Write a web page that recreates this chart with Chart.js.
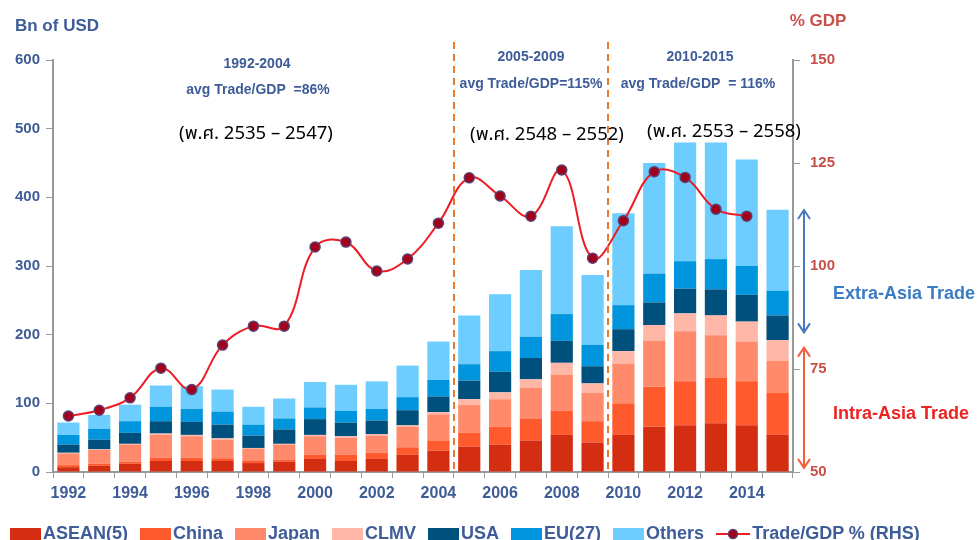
<!DOCTYPE html>
<html>
<head>
<meta charset="utf-8">
<script src="https://cdn.jsdelivr.net/npm/chart.js@4"></script>
<style>
  body { margin: 0; background: #fff; }
  #wrap { position: relative; width: 979px; height: 540px; overflow: hidden; font-family: "Liberation Sans", Arial, sans-serif; }
  canvas { position: absolute; left: 0; top: 0; }
  .note { position: absolute; font-weight: bold; white-space: nowrap; transform: translate(-50%, -50%); }
  .blue { color: #3d5c98; }
  .thai { position: absolute; font-family: "Noto Sans Thai", "Noto Sans", "DejaVu Sans", sans-serif; font-size: 18.5px; color: #000; white-space: nowrap; transform: translate(-50%, -50%); }
  #legend { position: absolute; left: 10px; top: 523px; display: flex; align-items: center; font-weight: bold; font-size: 18px; color: #3d5c98; }
  #legend .item { display: flex; align-items: center; margin-right: 12px; }
  #legend .box { width: 31px; height: 12px; margin-right: 2px; }
</style>
</head>
<body>
<div id="wrap">
  <canvas id="grafico" width="979" height="540"></canvas>

  <div class="note blue" style="left:57px; top:26px; font-size:17px;">Bn of USD</div>
  <div class="note" style="left:818px; top:21px; font-size:17px; color:#c8504a;">% GDP</div>

  <div class="note blue" style="left:257px; top:63px; font-size:14px;">1992-2004</div>
  <div class="note blue" style="left:258px; top:89px; font-size:14px;">avg Trade/GDP&nbsp;&nbsp;=86%</div>
  <div class="note blue" style="left:531px; top:56px; font-size:14px;">2005-2009</div>
  <div class="note blue" style="left:531px; top:83px; font-size:14px;">avg Trade/GDP=115%</div>
  <div class="note blue" style="left:700px; top:56px; font-size:14px;">2010-2015</div>
  <div class="note blue" style="left:698px; top:83px; font-size:14px;">avg Trade/GDP&nbsp;&nbsp;= 116%</div>

  <div class="thai" style="left:256px; top:133px;">(พ.ศ. 2535 – 2547)</div>
  <div class="thai" style="left:547px; top:134px;">(พ.ศ. 2548 – 2552)</div>
  <div class="thai" style="left:724px; top:131px;">(พ.ศ. 2553 – 2558)</div>

  <div class="note" style="left:904px; top:293px; font-size:18px; color:#3a7cc4;">Extra-Asia Trade</div>
  <div class="note" style="left:901px; top:413px; font-size:18px; color:#ee2222;">Intra-Asia Trade</div>

  <div id="legend"></div>
</div>

<script>
// Dados (bilhões de USD)
const anos = ['1992','1993','1994','1995','1996','1997','1998','1999','2000','2001','2002','2003',
              '2004','2005','2006','2007','2008','2009','2010','2011','2012','2013','2014','2015'];
const asean  = [7, 9, 12, 16, 16, 16, 13, 15, 19, 16, 19, 25, 31, 37, 40, 46, 54, 43, 54, 66, 68, 71, 68, 54];
const china  = [3, 3, 3, 5, 5, 4, 3, 3, 6, 9, 9, 11, 15, 20, 26, 32, 35, 31, 46, 58, 64, 66, 64, 61];
const japan  = [17, 20, 25, 33, 31, 27, 18, 22, 27, 25, 25, 30, 38, 41, 40, 45, 53, 41, 58, 67, 73, 62, 58, 47];
const clmv   = [1, 1, 1, 2, 2, 2, 1, 1, 2, 2, 2, 2, 3, 8, 10, 12, 17, 14, 18, 23, 26, 29, 29, 30];
const usa    = [12, 14, 16, 18, 19, 20, 18, 21, 23, 20, 20, 22, 23, 27, 30, 31, 32, 25, 32, 33, 36, 38, 39, 36];
const eu     = [14, 16, 17, 21, 19, 19, 16, 16, 17, 17, 17, 19, 24, 24, 30, 31, 39, 31, 35, 42, 40, 44, 42, 36];
const outros = [18, 20, 24, 31, 33, 32, 26, 29, 37, 38, 40, 46, 56, 71, 83, 97, 128, 102, 134, 161, 173, 170, 155, 118];
// Trade/GDP % (eixo direito)
const tradeGdp = [63.6, 65, 68, 75.2, 70, 80.8, 85.4, 85.4, 104.6, 105.8, 98.8, 101.7, 110.4,
                  121.4, 117, 112.1, 123.3, 101.9, 111, 122.9, 121.5, 113.8, 112.1, null];

const ticksEsq = [0, 100, 200, 300, 400, 500, 600];
const ticksDir = [50, 75, 100, 125, 150];

const series = [
  { nome: 'ASEAN(5)', dados: asean,  cor: '#d42e12' },
  { nome: 'China',    dados: china,  cor: '#ff5a2e' },
  { nome: 'Japan',    dados: japan,  cor: '#ff8a6c' },
  { nome: 'CLMV',     dados: clmv,   cor: '#ffb8a8' },
  { nome: 'USA',      dados: usa,    cor: '#00507e' },
  { nome: 'EU(27)',   dados: eu,     cor: '#0095dc' },
  { nome: 'Others',   dados: outros, cor: '#6dcdff' }
];

const azul = '#3d5c98';
const cinza = '#9a9a9a';

// linhas tracejadas e setas
const extras = {
  id: 'extras',
  afterDatasetsDraw(chart) {
    const { ctx, scales } = chart;
    const x = scales.x, y1 = scales.y1;
    ctx.save();
    ctx.strokeStyle = '#e8782a';
    ctx.lineWidth = 2;
    ctx.setLineDash([7, 5]);
    [12, 17].forEach((i) => {
      const px = Math.round((x.getPixelForValue(i) + x.getPixelForValue(i + 1)) / 2);
      ctx.beginPath();
      ctx.moveTo(px, 42);
      ctx.lineTo(px, chart.chartArea.bottom);
      ctx.stroke();
    });
    ctx.setLineDash([]);

    const seta = (cor, v1, v2) => {
      const ax = 804;
      const ya = y1.getPixelForValue(v1), yb = y1.getPixelForValue(v2);
      ctx.strokeStyle = cor;
      ctx.lineWidth = 2;
      ctx.beginPath();
      ctx.moveTo(ax, ya); ctx.lineTo(ax, yb);
      ctx.moveTo(ax - 6, ya + 9); ctx.lineTo(ax, ya); ctx.lineTo(ax + 6, ya + 9);
      ctx.moveTo(ax - 6, yb - 9); ctx.lineTo(ax, yb); ctx.lineTo(ax + 6, yb - 9);
      ctx.stroke();
    };
    seta('#4a78c0', 113.6, 83.9);
    seta('#f2603e', 80.2, 51);
    ctx.restore();
  }
};

const ctx = document.getElementById('grafico').getContext('2d');

const grafico = new Chart(ctx, {
  type: 'bar',
  data: {
    labels: anos,
    datasets: [
      {
        type: 'line',
        label: 'Trade/GDP % (RHS)',
        data: tradeGdp,
        yAxisID: 'y1',
        borderColor: '#ee1c25',
        borderWidth: 2,
        tension: 0.4,
        pointRadius: 5,
        pointBackgroundColor: '#a3001c',
        pointBorderColor: '#5b4070',
        pointBorderWidth: 1.5,
        order: 0
      },
      ...series.map((s) => ({
        label: s.nome,
        data: s.dados,
        backgroundColor: s.cor,
        yAxisID: 'y',
        stack: 'a',
        barPercentage: 0.72,
        categoryPercentage: 1,
        order: 1
      }))
    ]
  },
  options: {
    responsive: false,
    animation: false,
    devicePixelRatio: 1,
    layout: { padding: { top: 60, left: 0, right: 0, bottom: 0 } },
    plugins: {
      legend: { display: false },
      tooltip: { enabled: false }
    },
    scales: {
      x: {
        stacked: true,
        afterFit: (s) => { s.height = 68; },
        grid: { drawOnChartArea: false, drawTicks: true, tickLength: 6, color: cinza, offset: true },
        border: { color: cinza, width: 2 },
        ticks: {
          autoSkip: false,
          maxRotation: 0,
          padding: 6,
          color: azul,
          font: { family: 'Liberation Sans', size: 16, weight: 'bold' },
          callback: (v, i) => (i % 2 === 0 ? anos[i] : '')
        }
      },
      y: {
        stacked: true,
        position: 'left',
        min: 0,
        max: 600,
        afterFit: (s) => { s.width = 53; },
        afterBuildTicks: (s) => { s.ticks = ticksEsq.map((v) => ({ value: v })); },
        grid: { drawOnChartArea: false, drawTicks: true, tickLength: 7, color: cinza },
        border: { color: cinza, width: 2 },
        ticks: {
          padding: 6,
          color: azul,
          font: { family: 'Liberation Sans', size: 15, weight: 'bold' }
        }
      },
      y1: {
        position: 'right',
        min: 50,
        max: 150,
        afterFit: (s) => { s.width = 186; },
        afterBuildTicks: (s) => { s.ticks = ticksDir.map((v) => ({ value: v })); },
        grid: { drawOnChartArea: false, drawTicks: true, tickLength: 7, color: cinza },
        border: { color: cinza, width: 2 },
        ticks: {
          padding: 10,
          color: '#c8504a',
          font: { family: 'Liberation Sans', size: 15, weight: 'bold' }
        }
      }
    }
  },
  plugins: [extras]
});

// Legenda em HTML
const legenda = document.getElementById('legend');
series.forEach((s) => {
  const item = document.createElement('div');
  item.className = 'item';
  item.innerHTML = `<span class="box" style="background:${s.cor}"></span><span>${s.nome}</span>`;
  legenda.appendChild(item);
});
const itemLinha = document.createElement('div');
itemLinha.className = 'item';
itemLinha.innerHTML = `
  <svg width="34" height="14" style="margin-right:2px">
    <line x1="0" y1="7" x2="34" y2="7" stroke="#ee1c25" stroke-width="2"/>
    <circle cx="17" cy="7" r="4.5" fill="#a3001c" stroke="#5b4070" stroke-width="1.5"/>
  </svg><span>Trade/GDP % (RHS)</span>`;
legenda.appendChild(itemLinha);

grafico.update();
</script>
</body>
</html>
